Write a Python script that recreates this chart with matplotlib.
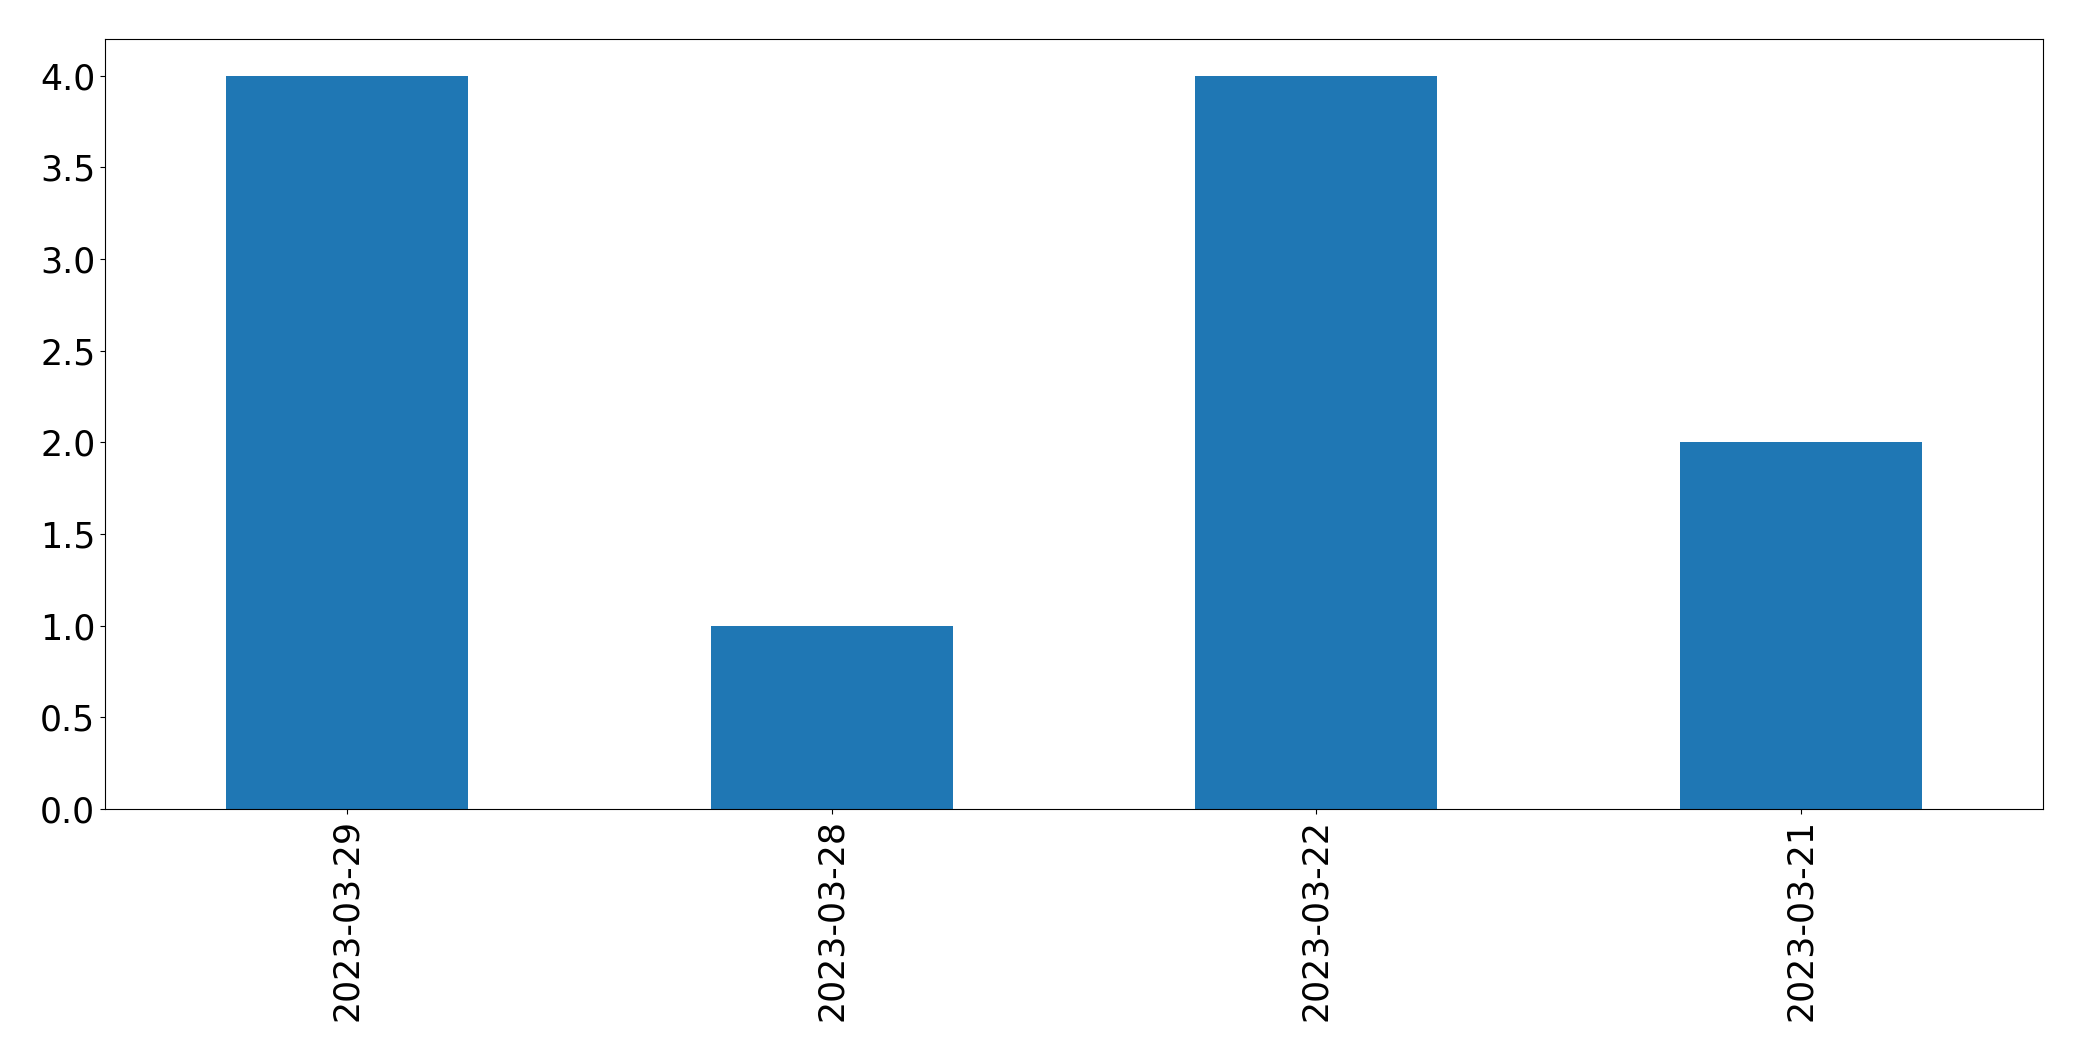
import matplotlib
matplotlib.use("Agg")
import matplotlib.pyplot as plt

dates = ["2023-03-29", "2023-03-28", "2023-03-22", "2023-03-21"]
counts = [4, 1, 4, 2]

W, H = 2082, 1061
fig = plt.figure(figsize=(W / 100, H / 100), dpi=100)
ax = fig.add_axes([105 / W, 1 - 809 / H, (2043 - 105) / W, (809 - 39) / H])

x = range(len(dates))
ax.bar(x, counts, width=0.5, color="#1f77b4")
ax.set_xlim(-0.5, len(dates) - 0.5)
ax.set_ylim(0, 4.2)
ax.set_xticks(list(x))
ax.set_xticklabels(dates, rotation=90)
ax.tick_params(labelsize=25)

fig.savefig("out.png", dpi=100)
